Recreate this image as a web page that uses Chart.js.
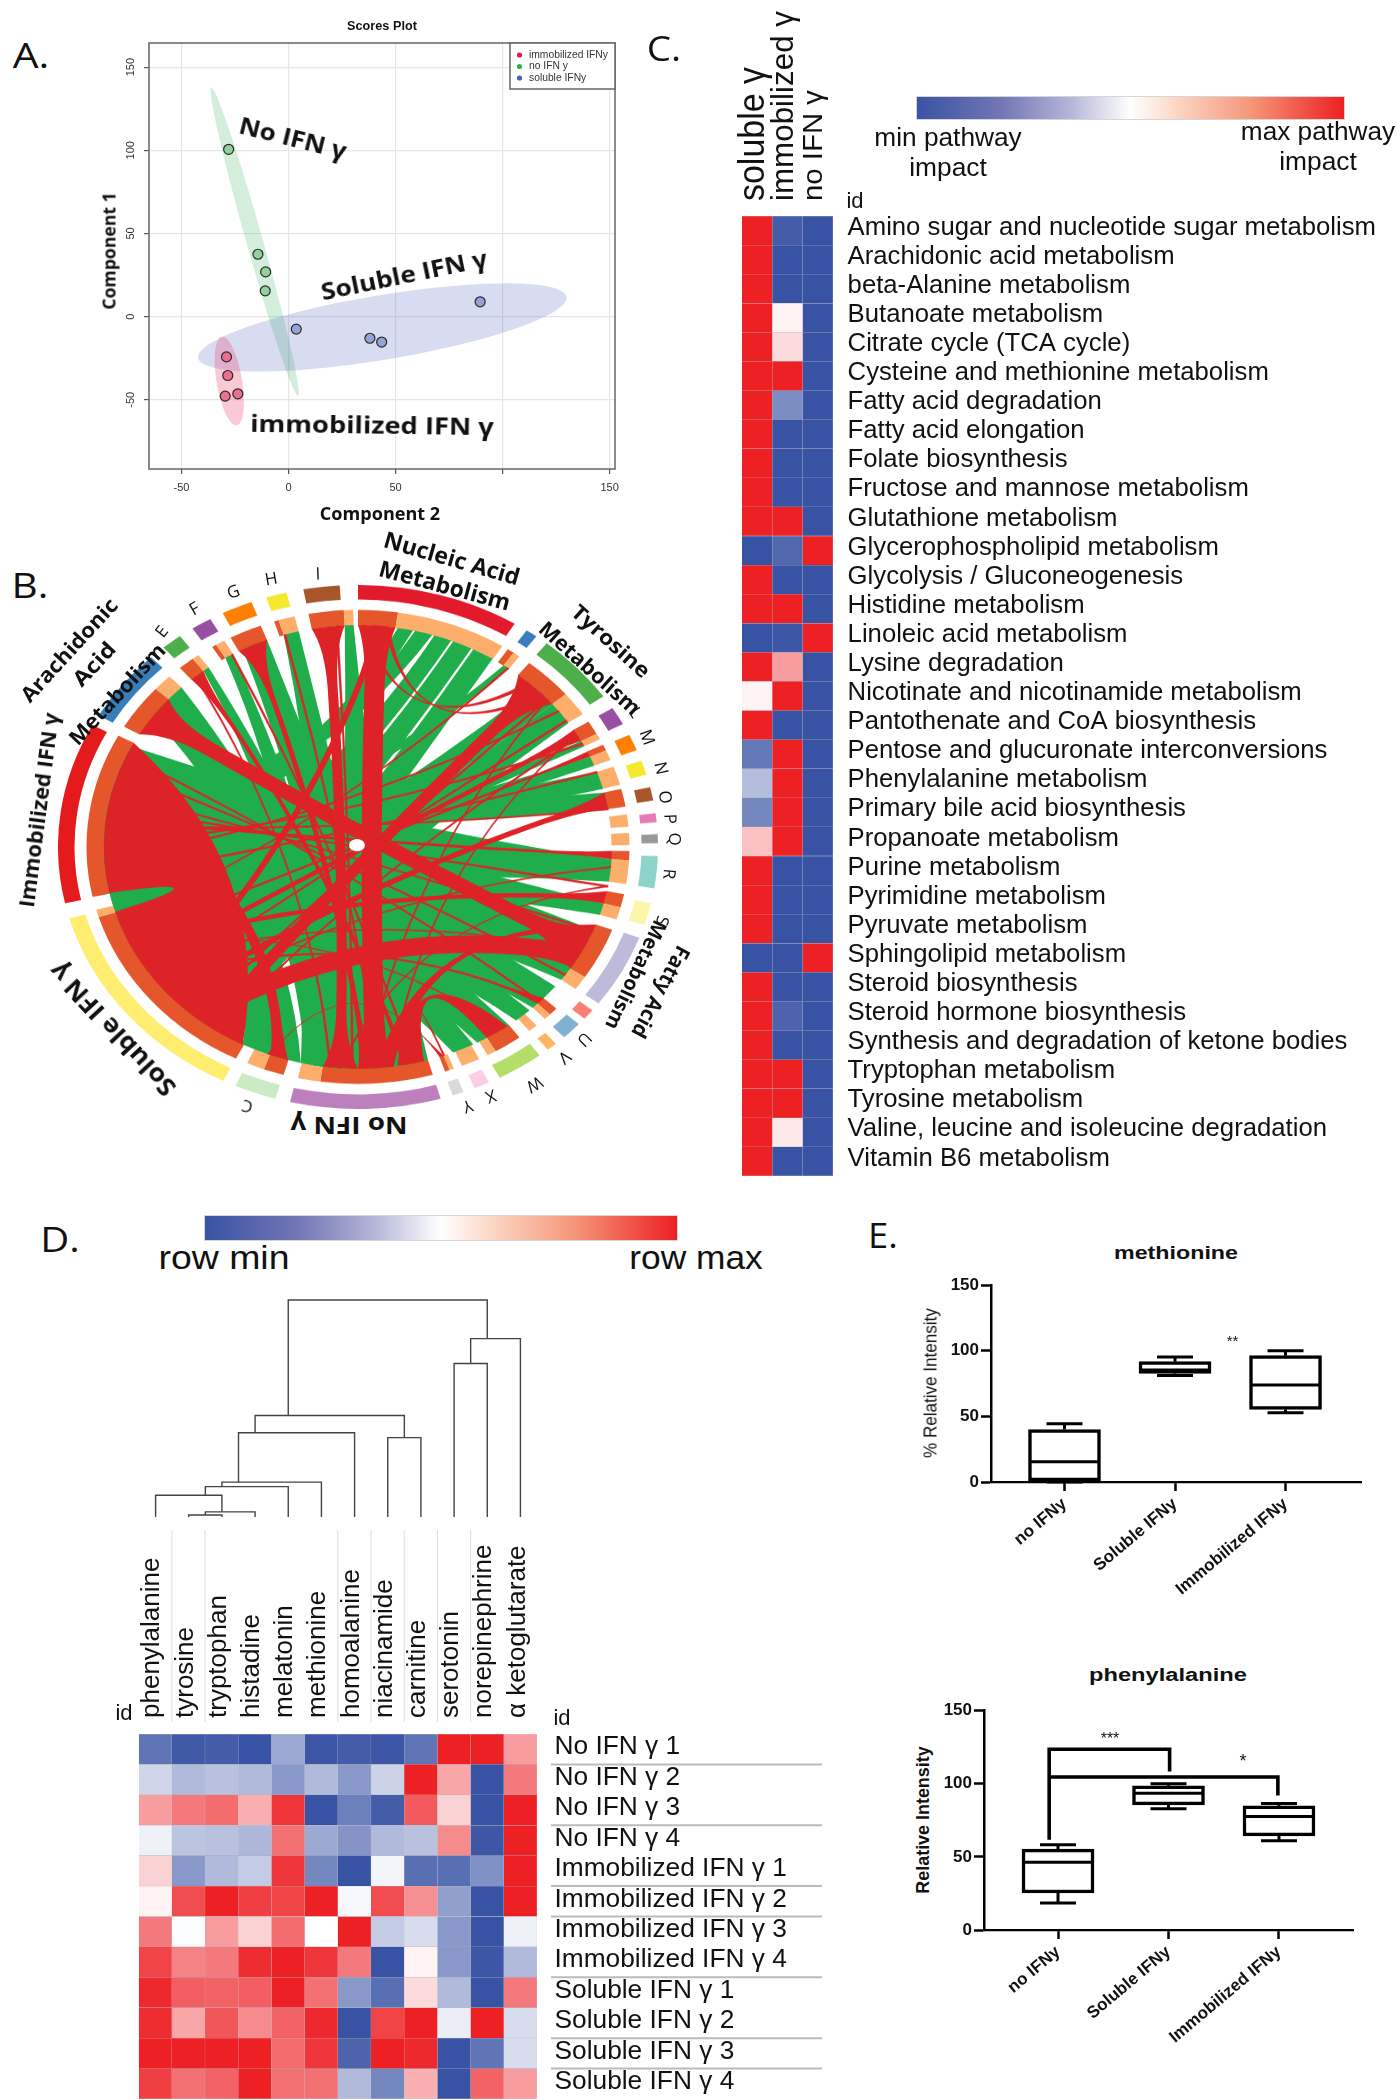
<!DOCTYPE html>
<html>
<head>
<meta charset="utf-8">
<title>IFN gamma metabolomics figure</title>
<script src="https://cdn.jsdelivr.net/npm/chart.js@4/dist/chart.umd.min.js"></script>
<style>
html, body { margin: 0; padding: 0; background: #fff; }
#page { position: relative; width: 1397px; height: 2100px; overflow: hidden; }
canvas { position: absolute; }
.txt { position: absolute; white-space: nowrap; line-height: 1; color: #111; font-family: "Liberation Sans", sans-serif; }
.bar { position: absolute; border: 1px solid #d5d5d5; box-sizing: border-box;
  background: linear-gradient(to right, #3953a4 0%, #7377b5 20%, #b5b6d8 36%, #ffffff 50%, #fcd9c8 60%, #f5977a 78%, #ed2024 100%); }
</style>
</head>
<body>
<div id="page"></div>
<script>
// panel A: scores plot
var groupNames = ["immobilized IFNy", "no IFN y", "soluble IFNy"];
var immobilizedScores = [[-29, -24.2], [-28.4, -35.4], [-23.7, -46.4], [-29.6, -47.8]];
var noIfnScores = [[-28, 100.6], [-14.3, 37.5], [-10.7, 26.9], [-10.9, 15.5]];
var solubleScores = [[3.6, -7.5], [38, -13], [43.5, -15.3], [89.5, 8.9]];
// centre, then two conjugate half axes, in score units
var immobilizedEllipse = [-27.7, -38.7, 3.2, -26.7, 6, 0];
var noIfnEllipse = [-15.8, 45, 20.2, -92.6, 4, 0];
var solubleEllipse = [43.8, -6.5, 86, 18.6, 3.5, -18.9];
var scoreTicksX = [-50, 0, 50, 100, 150];
var scoreTickLabelsX = ["-50", "0", "50", "", "150"];
var scoreTicksY = [-50, 0, 50, 100, 150];

// panel B: chord diagram, ring edges in degrees clockwise from the top
var outerEdges = [0, 31.5, 34.2, 36.5, 39, 54.9, 58, 62, 64.7, 68.3, 70.8, 74, 76.8, 79.8, 82.6, 84.6, 87.2, 89.2, 92, 99.1, 102.4, 107.3, 110.3, 126.7, 128.6, 131, 132.6, 136.6, 138.7, 140.7, 142.7, 151.8, 154.1, 157.1, 159.4, 161.6, 164, 193.1, 196, 204.1, 206.7, 254.2, 257.6, 297.7, 300.1, 316.4, 319.6, 323.6, 326.5, 330.5, 333.2, 339.2, 342.2, 346.2, 349.5, 356.5, 360];
var outerColors = ["#e31a2c", "", "#3a7ebf", "", "#4dae4a", "", "#984ea3", "", "#ff7f00", "", "#f5e92e", "", "#a65628", "", "#e879b8", "", "#999999", "", "#8dd3c7", "", "#fbf6a8", "", "#bebada", "", "#fb8072", "", "#80b1d3", "", "#fdb462", "", "#b3de69", "", "#fccde5", "", "#d9d9d9", "", "#bc80bd", "", "#ccebc5", "", "#ffed6f", "", "#e41a1c", "", "#377eb8", "", "#4daf4a", "", "#984ea3", "", "#ff7f00", "", "#f5e92e", "", "#a65628", ""];
var innerEdges = [0, 8.5, 32.1, 33.5, 35, 36.5, 39.1, 49.9, 55.9, 58.1, 61.5, 63, 64.5, 66, 68.5, 70.2, 74.8, 75.8, 80.2, 82.1, 85.1, 86.6, 89.6, 91, 93.2, 99, 101.5, 104.8, 107.8, 110.5, 123.3, 126.8, 133, 135, 136.5, 138.9, 140.9, 143.5, 149.5, 151.5, 153.5, 157.5, 159.3, 160.3, 161.3, 164, 188, 192.8, 195.9, 200.3, 204.1, 206.7, 252.8, 254.6, 257.8, 298, 300.5, 311.8, 316, 319, 322.5, 324, 327.5, 328.5, 330.5, 332, 339, 342, 343, 346.5, 349.5, 357, 359, 360];
var innerKinds = ("dlgdlgdlgdlgdlg" + "lg" + "dg" + "lg" + "lg" + "dlgdlgdlgdlg" + "lg" + "dlg" + "lg" + "ldg" + "dlgdlgdlg" + "dg" + "dlgdlgdlg" + "dg" + "dlgdlg").split("");
var greenLinks = [
  [9, 12.5, 262, 272], [13, 17, 272, 282], [17.5, 21.5, 240, 252], [22, 26.5, 226, 238], [27, 32, 212, 224],
  [44, 50, 232, 244], [50, 56, 214, 232], [35, 36.5, 258, 262], [61.5, 63, 244, 252], [66, 68.5, 252, 262],
  [70.2, 74.8, 262, 275], [75.8, 80.2, 275, 290], [93.2, 99, 258, 297], [104.8, 107.8, 258, 290], [112, 126.8, 262, 297],
  [129, 136.5, 262, 297], [137.5, 141.5, 262, 297], [143.5, 152, 262, 297], [153, 158, 255, 297],
  [193, 207, 262, 296], [176, 192, 306, 316], [172, 190, 322.5, 324], [180, 193, 328.5, 330.5],
  [165, 185, 333, 339], [170, 190, 343, 346.5], [164, 186, 357, 359]
];
// the two big groups share one solid mass
var redMass = [[207, 253, 258, 298]];
// bands fan out at the ring and keep a narrow waist, last number is the half width of the waist
var redBands = [
  [0, 8.5, 172, 180, 10], [349.5, 357, 180, 188, 5], [300.5, 311.8, 110.5, 123.3, 8], [39.1, 49.9, 207, 225, 6], [115, 123, 207, 232, 10],
  [3, 7, 225, 235, 3], [332, 339, 176, 180, 2.5], [319, 322.5, 168, 170, 2], [196, 200.3, 280, 286, 5], [101.5, 104.8, 240, 246, 2.5],
  [91, 93.2, 275, 279, 1.5], [75.8, 80.2, 225, 229, 3], [58.1, 61.5, 236, 240, 2.5], [64.5, 66, 245, 247, 1.2], [133, 135, 232, 234, 1.2],
  [160.3, 161.3, 200, 201, 0.4]
];
var redRibbons = [[144, 149.5, 165, 171], [110.5, 112.5, 172, 176]];
var thinRedLinks = [
  [70, 70.5, 262, 262.7], [52, 52.5, 266, 266.6], [62, 62.5, 270, 270.6], [80, 80.4, 275, 275.6], [100, 100.5, 280, 280.5],
  [112, 112.5, 284, 284.5], [125, 125.5, 290, 290.5], [134, 134.5, 294, 294.5], [60, 60.5, 214, 214.5], [48, 48.5, 220, 220.5],
  [95, 95.4, 226, 226.5], [55, 55.5, 232, 232.5], [118, 118.4, 238, 238.5], [145, 145.4, 244, 244.4], [36, 36.5, 250, 250.4],
  [48, 48.4, 178, 178.5], [59, 59.4, 172, 172.5], [100, 100.4, 184, 184.5], [167, 167.5, 330, 330.5], [175, 175.5, 343, 343.5],
  [181, 181.5, 355, 355.5], [186, 186.5, 320, 320.4], [160, 160.4, 165, 165.5], [1, 2, 42, 43], [6, 7, 46, 47]
];

// panel C: pathway impact, columns soluble, immobilized, no IFN
var pathwayColumns = ["soluble γ", "immobilized γ", "no IFN γ"];
var pathways = ["Amino sugar and nucleotide sugar metabolism", "Arachidonic acid metabolism", "beta-Alanine metabolism", "Butanoate metabolism", "Citrate cycle (TCA cycle)", "Cysteine and methionine metabolism", "Fatty acid degradation", "Fatty acid elongation", "Folate biosynthesis", "Fructose and mannose metabolism", "Glutathione metabolism", "Glycerophospholipid metabolism", "Glycolysis / Gluconeogenesis", "Histidine metabolism", "Linoleic acid metabolism", "Lysine degradation", "Nicotinate and nicotinamide metabolism", "Pantothenate and CoA biosynthesis", "Pentose and glucuronate interconversions", "Phenylalanine metabolism", "Primary bile acid biosynthesis", "Propanoate metabolism", "Purine metabolism", "Pyrimidine metabolism", "Pyruvate metabolism", "Sphingolipid metabolism", "Steroid biosynthesis", "Steroid hormone biosynthesis", "Synthesis and degradation of ketone bodies", "Tryptophan metabolism", "Tyrosine metabolism", "Valine, leucine and isoleucine degradation", "Vitamin B6 metabolism"];
var solubleImpact = [1, 1, 1, 1, 1, 1, 1, 1, 1, 1, 1, 0, 1, 1, 0, 1, 0.53, 1, 0.11, 0.31, 0.15, 0.64, 1, 1, 1, 0, 1, 1, 1, 1, 1, 1, 1];
var immobilizedImpact = [0.03, 0, 0, 0.53, 0.58, 1, 0.17, 0, 0, 0, 1, 0.06, 0, 1, 0.01, 0.72, 1, 0, 1, 1, 1, 1, 0, 0, 0, 0, 0, 0.05, 0, 1, 1, 0.55, 0];
var noIfnImpact = [0, 0, 0, 0, 0, 0, 0, 0, 0, 0, 0, 1, 0, 0, 1, 0, 0, 0, 0, 0, 0, 0, 0, 0, 0, 1, 0, 0, 0, 0, 0, 0, 0];

// panel D: metabolite heat map and dendrogram
var metabolites = ["phenylalanine", "tyrosine", "tryptophan", "histadine", "melatonin", "methionine", "homoalanine", "niacinamide", "carnitine", "serotonin", "norepinephrine", "α ketoglutarate"];
var samples = ["No IFN γ 1", "No IFN γ 2", "No IFN γ 3", "No IFN γ 4", "Immobilized IFN γ 1", "Immobilized IFN γ 2", "Immobilized IFN γ 3", "Immobilized IFN γ 4", "Soluble IFN γ 1", "Soluble IFN γ 2", "Soluble IFN γ 3", "Soluble IFN γ 4"];
var metaboliteValues = [
  [0.1, 0.02, 0.03, 0, 0.25, 0.01, 0.03, 0.01, 0.1, 1, 1, 0.72],
  [0.38, 0.3, 0.32, 0.3, 0.2, 0.3, 0.2, 0.37, 1, 0.7, 0, 0.8],
  [0.72, 0.8, 0.83, 0.68, 0.95, 0, 0.13, 0.03, 0.87, 0.6, 0, 1],
  [0.46, 0.33, 0.32, 0.29, 0.82, 0.25, 0.19, 0.3, 0.32, 0.76, 0.01, 1],
  [0.6, 0.2, 0.3, 0.35, 0.95, 0.15, 0, 0.47, 0.08, 0.08, 0.18, 1],
  [0.53, 0.9, 1, 0.93, 0.92, 1, 0.48, 0.9, 0.75, 0.22, 0, 1],
  [0.8, 0.49, 0.72, 0.6, 0.83, 0.5, 1, 0.35, 0.4, 0.2, 0, 0.46],
  [0.92, 0.78, 0.8, 0.97, 1, 0.95, 0.8, 0, 0.53, 0.2, 0.01, 0.3],
  [0.98, 0.86, 0.85, 0.86, 1, 0.82, 0.2, 0.08, 0.58, 0.3, 0, 0.8],
  [0.97, 0.7, 0.88, 0.76, 0.85, 0.98, 0, 0.92, 1, 0.45, 1, 0.4],
  [1, 1, 1, 1, 0.83, 0.95, 0.05, 1, 0.98, 0, 0.1, 0.4],
  [0.93, 0.82, 0.85, 1, 0.82, 0.82, 0.3, 0.15, 0.68, 0, 0.85, 0.72]
];
var sampleRules = [1, 3, 5, 6, 8, 10, 11];
var metaboliteRules = [1, 2, 6, 7, 8, 9, 10];
var dendroLeft = [1, 1.5, 0, 1.5, 2, 2.5, 7, 3, 9, 9.5, 4];
var dendroRight = [2, 3, 2, 4, 5, 6, 8, 7.5, 10, 11, 10];
var dendroLeftBase = [0, 6, 0, 63, 88, 101, 0, 244, 0, 445, 294];
var dendroRightBase = [0, 0, 15, 0, 0, 0, 0, 230, 0, 0, 517];
var dendroTop = [6, 15, 63, 88, 101, 244, 230, 294, 445, 517, 629];

// panel E: box plots
var boxGroups = ["no IFNy", "Soluble IFNy", "Immobilized IFNy"];
var methionineQ1 = [0.8, 82.7, 55.3];
var methionineQ3 = [40, 91.6, 96.2];
var methionineMedian = [15.5, 85.3, 73.9];
var methionineLow = [0, 81, 52.8];
var methionineHigh = [44.4, 95.2, 100];
var phenylalanineQ1 = [25.3, 85.6, 64.4];
var phenylalanineQ3 = [55.3, 98.6, 84.9];
var phenylalanineMedian = [46.4, 93.6, 77.6];
var phenylalanineLow = [18.4, 82.9, 61];
var phenylalanineHigh = [58.3, 100, 86.5];
var bracketOne = [[-0.08, 61.7], [-0.08, 123.6], [1.01, 123.6], [1.01, 108.4]];
var bracketTwo = [[-0.08, 104.7], [1.99, 104.7], [1.99, 92]];
var boxTicks = [0, 50, 100, 150];

Chart.defaults.font.family = '"Liberation Sans", sans-serif';
Chart.defaults.color = "#111";
Chart.defaults.animation = false;
Chart.defaults.responsive = false;
Chart.defaults.devicePixelRatio = 1;
Chart.defaults.plugins.legend.display = false;
Chart.defaults.plugins.tooltip.enabled = false;

var page = document.getElementById("page");

function addCanvas(left, top, width, height) {
  var c = document.createElement("canvas");
  c.width = width;
  c.height = height;
  c.style.left = left + "px";
  c.style.top = top + "px";
  page.appendChild(c);
  return c;
}

// text centred on cx,cy; o.width stretches it to the width seen in the figure
function label(text, cx, cy, size, o) {
  o = o || {};
  var d = document.createElement("div");
  d.className = "txt";
  d.textContent = text;
  d.style.left = cx + "px";
  d.style.top = cy + "px";
  d.style.fontSize = size + "px";
  if (o.font) d.style.fontFamily = o.font;
  if (o.bold) d.style.fontWeight = "bold";
  page.appendChild(d);
  var sx = o.width ? o.width / d.offsetWidth : 1;
  d.style.transform = "translate(-50%,-50%) rotate(" + (o.rot || 0) + "deg) scaleX(" + sx + ")";
}

function colorBar(left, top, width, height) {
  var b = document.createElement("div");
  b.className = "bar";
  b.style.left = left + "px";
  b.style.top = top + "px";
  b.style.width = width + "px";
  b.style.height = height + "px";
  page.appendChild(b);
}

function heatColor(v) {
  var lo = [57, 83, 164], hi = [237, 32, 36], end = v < 0.5 ? lo : hi, t = Math.abs(v - 0.5) * 2;
  return "rgb(" + end.map(function (c) { return Math.round(255 + (c - 255) * t); }).join(",") + ")";
}

function toPoints(list) {
  return list.map(function (p) { return { x: p[0], y: p[1] }; });
}

var OPEN = '"Open Sans", sans-serif';

/* ---------- A ---------- */
var scoresPlugin = {
  id: "scores",
  beforeDatasetsDraw: function (chart) {
    var c = chart.ctx, xs = chart.scales.x, ys = chart.scales.y;
    [[noIfnEllipse, "rgba(40,170,80,0.2)"], [solubleEllipse, "rgba(70,90,190,0.21)"], [immobilizedEllipse, "rgba(235,40,90,0.25)"]].forEach(function (e) {
      var p = e[0];
      c.beginPath();
      for (var i = 0; i <= 120; i++) {
        var t = i / 120 * Math.PI * 2;
        var px = xs.getPixelForValue(p[0] + p[2] * Math.cos(t) + p[4] * Math.sin(t));
        var py = ys.getPixelForValue(p[1] + p[3] * Math.cos(t) + p[5] * Math.sin(t));
        if (i) c.lineTo(px, py); else c.moveTo(px, py);
      }
      c.fillStyle = e[1];
      c.fill();
    });
  },
  afterDraw: function (chart) {
    var c = chart.ctx, a = chart.chartArea, ys = chart.scales.y;
    c.save();
    c.strokeStyle = "#666";
    c.lineWidth = 1.5;
    c.strokeRect(a.left, a.top, a.right - a.left, a.bottom - a.top);
    c.font = '11px "Liberation Sans"';
    c.fillStyle = "#333";
    c.textAlign = "center";
    c.textBaseline = "middle";
    scoreTicksY.forEach(function (v) {
      c.save();
      c.translate(a.left - 18, ys.getPixelForValue(v));
      c.rotate(-Math.PI / 2);
      c.fillText(String(v), 0, 0);
      c.restore();
    });
    var bx = a.right - 105;
    c.fillStyle = "#fff";
    c.fillRect(bx, a.top, 105, 46);
    c.strokeRect(bx, a.top, 105, 46);
    c.textAlign = "left";
    c.font = '10.3px "Liberation Sans"';
    ["#e8174a", "#2db24f", "#4560b8"].forEach(function (col, i) {
      var y = a.top + 12 + i * 11.5;
      c.fillStyle = col;
      c.beginPath();
      c.arc(bx + 9.5, y, 2.6, 0, Math.PI * 2);
      c.fill();
      c.fillStyle = "#333";
      c.fillText(groupNames[i], bx + 19, y);
    });
    c.restore();
  }
};

function scoreDataset(points, fill) {
  return { data: toPoints(points), backgroundColor: fill, borderColor: "#2a2a2a", borderWidth: 1.2, pointRadius: 5 };
}

new Chart(addCanvas(60, 0, 570, 530), {
  type: "scatter",
  data: { datasets: [scoreDataset(immobilizedScores, "#ec6f8f"), scoreDataset(noIfnScores, "#93d09b"), scoreDataset(solubleScores, "#93a3d8")] },
  options: {
    layout: { padding: { top: 43, right: 15 } },
    scales: {
      x: {
        min: -65.2, max: 152.5,
        afterBuildTicks: function (s) { s.ticks = scoreTicksX.map(function (v) { return { value: v }; }); },
        afterFit: function (s) { s.height = 61; },
        grid: { color: "#e6e6e6", lineWidth: 1.2, tickColor: "#555", tickLength: 5 },
        border: { display: false },
        ticks: { autoSkip: false, maxRotation: 0, padding: 7, color: "#333", font: { size: 11 }, callback: function (v) { return scoreTickLabelsX[scoreTicksX.indexOf(v)]; } }
      },
      y: {
        min: -91.6, max: 164.5,
        afterBuildTicks: function (s) { s.ticks = scoreTicksY.map(function (v) { return { value: v }; }); },
        afterFit: function (s) { s.width = 89; },
        grid: { color: "#e6e6e6", lineWidth: 1.2, tickColor: "#555", tickLength: 5 },
        border: { display: false },
        ticks: { display: false }
      }
    }
  },
  plugins: [scoresPlugin]
});

label("Scores Plot", 382, 26, 12.5, { bold: true, width: 70 });
label("No IFN γ", 293, 138, 23, { font: OPEN, bold: true, rot: 14, width: 110 });
label("Soluble IFN γ", 404, 275, 23, { font: OPEN, bold: true, rot: -11.7, width: 169 });
label("immobilized IFN γ", 372, 425, 23, { font: OPEN, bold: true, rot: 0.8, width: 243 });
label("Component 2", 380, 513, 17, { font: OPEN, bold: true, width: 120 });
label("Component 1", 109, 251, 17, { font: OPEN, bold: true, rot: -90, width: 117 });
label("A.", 31, 55, 34, { font: OPEN, width: 36 });

/* ---------- B ---------- */
function spans(edges) {
  var out = [];
  for (var i = 1; i < edges.length; i++) out.push(edges[i] - edges[i - 1]);
  return out;
}

var chordPlugin = {
  id: "chord",
  afterDatasetsDraw: function (chart) {
    var c = chart.ctx, arc = chart.getDatasetMeta(2).data[0];
    var cx = arc.x, cy = arc.y, r = arc.innerRadius + 0.5;
    var rad = Math.PI / 180, top = Math.PI / 2, K = 0.5;
    function pt(a) {
      return [cx + r * Math.sin(a * rad), cy - r * Math.cos(a * rad)];
    }
    function control(p, q) {
      return [cx + ((p[0] + q[0]) / 2 - cx) * K, cy + ((p[1] + q[1]) / 2 - cy) * K];
    }
    function curve(p, q) {
      var m = control(p, q);
      c.quadraticCurveTo(m[0], m[1], q[0], q[1]);
    }
    function arcTo(a0, a1) {
      c.arc(cx, cy, r, a0 * rad - top, a1 * rad - top);
    }
    function ribbon(l) {
      c.beginPath();
      c.moveTo.apply(c, pt(l[0]));
      arcTo(l[0], l[1]);
      curve(pt(l[1]), pt(l[2]));
      arcTo(l[2], l[3]);
      curve(pt(l[3]), pt(l[0]));
      c.closePath();
      c.fill();
    }
    // spine between the two sector middles, pushed sideways by w
    function band(l) {
      var A = pt((l[0] + l[1]) / 2), B = pt((l[2] + l[3]) / 2), m = control(A, B), w = l[4];
      function spine(t, side) {
        var u = 1 - t, x = u * u * A[0] + 2 * u * t * m[0] + t * t * B[0], y = u * u * A[1] + 2 * u * t * m[1] + t * t * B[1];
        var dx = 2 * u * (m[0] - A[0]) + 2 * t * (B[0] - m[0]), dy = 2 * u * (m[1] - A[1]) + 2 * t * (B[1] - m[1]);
        var len = Math.sqrt(dx * dx + dy * dy) || 1;
        return [x + side * w * dy / len, y - side * w * dx / len];
      }
      var t0 = 0.14, t1 = 0.86, t, q;
      c.beginPath();
      c.moveTo.apply(c, pt(l[0]));
      arcTo(l[0], l[1]);
      q = spine(0.05, 1);
      c.quadraticCurveTo(q[0], q[1], spine(t0, 1)[0], spine(t0, 1)[1]);
      for (t = t0; t < t1; t += 0.06) c.lineTo.apply(c, spine(t, 1));
      c.lineTo.apply(c, spine(t1, 1));
      q = spine(0.95, 1);
      c.quadraticCurveTo(q[0], q[1], pt(l[2])[0], pt(l[2])[1]);
      arcTo(l[2], l[3]);
      q = spine(0.95, -1);
      c.quadraticCurveTo(q[0], q[1], spine(t1, -1)[0], spine(t1, -1)[1]);
      for (t = t1; t > t0; t -= 0.06) c.lineTo.apply(c, spine(t, -1));
      c.lineTo.apply(c, spine(t0, -1));
      q = spine(0.05, -1);
      c.quadraticCurveTo(q[0], q[1], pt(l[0])[0], pt(l[0])[1]);
      c.closePath();
      c.fill();
    }
    c.save();
    c.fillStyle = "#1fae4b";
    greenLinks.forEach(ribbon);
    c.fillStyle = "#dd2327";
    redMass.forEach(ribbon);
    redRibbons.forEach(ribbon);
    redBands.forEach(band);
    c.strokeStyle = "#dd2327";
    c.lineWidth = 0.4;
    thinRedLinks.forEach(function (l) { ribbon(l); c.stroke(); });
    c.fillStyle = "#fff";
    c.beginPath();
    c.ellipse(cx - 1, cy - 2, 8, 7, 0, 0, Math.PI * 2);
    c.fill();
    c.restore();
  }
};

var chordCanvas = addCanvas(58, 585, 600, 600);
// the published wheel is squashed vertically
chordCanvas.style.transformOrigin = "0 0";
chordCanvas.style.transform = "scaleY(0.873)";
new Chart(chordCanvas, {
  type: "doughnut",
  data: {
    datasets: [
      { data: spans(outerEdges), backgroundColor: outerColors.map(function (x) { return x || "rgba(0,0,0,0)"; }), borderWidth: 0, weight: 5.5 },
      { data: [360], backgroundColor: ["rgba(0,0,0,0)"], borderWidth: 0, weight: 4 },
      { data: spans(innerEdges), backgroundColor: innerKinds.map(function (k) { return k === "d" ? "#e5562a" : k === "l" ? "#fdae6b" : "rgba(0,0,0,0)"; }), borderWidth: 0, weight: 6 }
    ]
  },
  options: { cutout: "84.5%", layout: { padding: 0 } },
  plugins: [chordPlugin]
});

label("B.", 30, 585, 34, { font: OPEN, width: 37 });
label("Nucleic Acid", 452, 558, 23, { font: OPEN, bold: true, rot: 16, width: 140 });
label("Metabolism", 445, 585, 23, { font: OPEN, bold: true, rot: 15, width: 135 });
label("Tyrosine", 611, 641, 21, { font: OPEN, bold: true, rot: 42, width: 98 });
label("Metabolism", 590, 668, 21, { font: OPEN, bold: true, rot: 42, width: 128 });
label("Arachidonic", 69, 650, 21, { font: OPEN, bold: true, rot: -47.5, width: 132 });
label("Acid", 94, 664, 21, { font: OPEN, bold: true, rot: -47, width: 52 });
label("Metabolism", 117, 694, 21, { font: OPEN, bold: true, rot: -47, width: 130 });
label("Immobilized IFN γ", 39, 810, 21, { font: OPEN, bold: true, rot: -82.6, width: 196 });
label("Soluble IFN γ", 112, 1030, 25, { font: OPEN, bold: true, rot: 227, width: 172 });
label("No IFN γ", 349, 1125, 23, { font: OPEN, bold: true, rot: 180, width: 117 });
label("Fatty Acid", 661, 992, 21, { font: OPEN, bold: true, rot: 118, width: 101 });
label("Metabolism", 636, 975, 20, { font: OPEN, bold: true, rot: 115, width: 118 });
[["E", 161, 631, -52], ["F", 194, 608, -30], ["G", 233, 591, -20], ["H", 271, 578, -10], ["I", 318, 573, -2],
 ["L", 636, 712, 60], ["M", 648, 737, 70], ["N", 662, 768, 77], ["O", 666, 797, 85], ["P", 671, 819, 88], ["Q", 675, 839, 90],
 ["R", 670, 874, 95], ["S", 663, 921, 105], ["U", 585, 1040, 135], ["V", 565, 1058, 140], ["W", 535, 1085, 150],
 ["X", 491, 1097, 160], ["Y", 468, 1107, 160], ["C", 247, 1107, 195]].forEach(function (s) {
  label(s[0], s[1], s[2], 17, { font: OPEN, rot: s[3] });
});

/* ---------- C and D heat maps: stacked bars, one dataset per column ---------- */
function columnValues(matrix, col) {
  return matrix.map(function (row) { return row[col]; });
}

function noPadding(s) {
  s.paddingLeft = s.paddingRight = s.paddingTop = s.paddingBottom = 0;
}

function heatMap(canvas, rows, columns, columnData, o) {
  // column headers read upward, starting just above the cells
  var headerPlugin = {
    id: "headers",
    afterDraw: function (chart) {
      var c = chart.ctx, xs = chart.scales.x, a = chart.chartArea;
      c.save();
      c.fillStyle = "#111";
      c.textAlign = "left";
      c.textBaseline = "middle";
      columns.forEach(function (name, i) {
        c.font = o.headSizes[i] + 'px "Liberation Sans"';
        var sx = o.headLengths ? o.headLengths[i] / c.measureText(name).width : 1;
        c.save();
        c.translate(xs.getPixelForValue(i + 0.5) - 3, a.top - o.headPad);
        c.rotate(-Math.PI / 2);
        c.scale(sx, 1);
        c.fillText(name, 0, 0);
        c.restore();
      });
      c.restore();
    }
  };
  return new Chart(canvas, {
    type: "bar",
    data: {
      labels: rows,
      datasets: columns.map(function (name, i) {
        return {
          label: name,
          data: rows.map(function () { return 1; }),
          backgroundColor: columnData[i].map(heatColor),
          borderColor: "rgba(40,30,60,0.22)",
          borderWidth: 0.5,
          barPercentage: 1,
          categoryPercentage: 1
        };
      })
    },
    options: {
      indexAxis: "y",
      layout: { padding: o.padding },
      scales: {
        x: {
          position: "top", stacked: true, min: 0, max: columns.length,
          afterFit: function (s) { s.height = o.headHeight; noPadding(s); },
          grid: { display: false, drawTicks: false }, border: { display: false },
          ticks: { display: false }
        },
        y: {
          position: "right", stacked: true,
          afterFit: function (s) { s.width = o.sideWidth; noPadding(s); },
          grid: { display: false, drawTicks: false }, border: { display: false },
          ticks: { autoSkip: false, padding: o.sidePad, labelOffset: o.sideShift, font: { size: o.sideSize } }
        }
      }
    },
    plugins: [headerPlugin].concat(o.plugins || [])
  });
}

heatMap(addCanvas(640, 0, 757, 1190), pathways, pathwayColumns, [solubleImpact, immobilizedImpact, noIfnImpact], {
  padding: { left: 102, bottom: 14 }, headHeight: 216, headPad: 15, headSizes: [36, 31, 27], headLengths: [134, 190, 111],
  sideWidth: 564, sidePad: 14.6, sideSize: 25.7, sideShift: -3
});
label("C.", 664, 48, 34, { font: OPEN, width: 34 });
colorBar(916, 96, 429, 24);
label("min pathway", 948, 137, 25, { width: 147 });
label("impact", 948, 167, 25, { width: 78 });
label("max pathway", 1318, 131, 25, { width: 154 });
label("impact", 1318, 161, 25, { width: 78 });
label("id", 855, 201, 22);

var rulesPlugin = {
  id: "rules",
  afterDraw: function (chart) {
    var c = chart.ctx, a = chart.chartArea, xs = chart.scales.x, step = (a.bottom - a.top) / samples.length;
    c.save();
    c.strokeStyle = "#bbb";
    c.lineWidth = 2;
    sampleRules.forEach(function (i) {
      c.beginPath();
      c.moveTo(a.right + 14, a.top + step * i);
      c.lineTo(a.right + 285, a.top + step * i);
      c.stroke();
    });
    c.strokeStyle = "#ddd";
    c.lineWidth = 1;
    metaboliteRules.forEach(function (i) {
      var x = xs.getPixelForValue(i);
      c.beginPath();
      c.moveTo(x, 10);
      c.lineTo(x, a.top - 12);
      c.stroke();
    });
    c.restore();
  }
};

heatMap(addCanvas(100, 1520, 730, 580), samples, metabolites, metabolites.map(function (m, i) { return columnValues(metaboliteValues, i); }), {
  padding: { left: 38.7, bottom: 1 }, headHeight: 214, headPad: 16,
  headSizes: metabolites.map(function () { return 26; }),
  sideWidth: 293, sidePad: 17.5, sideSize: 26.3, sideShift: -2, plugins: [rulesPlugin]
});

new Chart(addCanvas(139, 1298, 398, 219), {
  type: "scatter",
  data: {
    datasets: dendroTop.map(function (h, i) {
      return {
        data: [
          { x: dendroLeft[i], y: dendroLeftBase[i] }, { x: dendroLeft[i], y: h },
          { x: dendroRight[i], y: h }, { x: dendroRight[i], y: dendroRightBase[i] }
        ],
        showLine: true, pointRadius: 0, borderColor: "#444", borderWidth: 1.4, clip: false
      };
    })
  },
  options: {
    layout: { padding: { top: 2 } },
    scales: {
      x: { display: false, min: -0.5, max: 11.5 },
      y: { display: false, min: 0, max: 629 }
    }
  }
});

colorBar(204, 1215, 474, 26);
label("row min", 224, 1257, 34, { width: 131 });
label("row max", 696, 1257, 34, { width: 133 });
label("D.", 60, 1239, 34, { font: OPEN, width: 40 });
label("id", 124, 1713, 22);
label("id", 562, 1718, 22);

/* ---------- E ---------- */
var boxPlugin = {
  id: "box",
  afterDatasetsDraw: function (chart, args, opts) {
    var c = chart.ctx, xs = chart.scales.x, ys = chart.scales.y;
    c.save();
    c.strokeStyle = "#000";
    c.lineWidth = 3;
    function line(x0, y0, x1, y1) {
      c.beginPath();
      c.moveTo(x0, y0);
      c.lineTo(x1, y1);
      c.stroke();
    }
    boxGroups.forEach(function (g, i) {
      var x = xs.getPixelForValue(i), half = 34, cap = 18;
      line(x - half, ys.getPixelForValue(opts.median[i]), x + half, ys.getPixelForValue(opts.median[i]));
      line(x, ys.getPixelForValue(opts.q3[i]), x, ys.getPixelForValue(opts.high[i]));
      line(x, ys.getPixelForValue(opts.q1[i]), x, ys.getPixelForValue(opts.low[i]));
      line(x - cap, ys.getPixelForValue(opts.high[i]), x + cap, ys.getPixelForValue(opts.high[i]));
      line(x - cap, ys.getPixelForValue(opts.low[i]), x + cap, ys.getPixelForValue(opts.low[i]));
    });
    c.lineWidth = 3.6;
    (opts.brackets || []).forEach(function (b) {
      c.beginPath();
      b.forEach(function (p, j) {
        var px = xs.getPixelForValue(p[0]), py = ys.getPixelForValue(p[1]);
        if (j) c.lineTo(px, py); else c.moveTo(px, py);
      });
      c.stroke();
    });
    c.restore();
  }
};

function boxChart(canvas, o) {
  return new Chart(canvas, {
    type: "bar",
    data: {
      datasets: [{
        data: o.q1.map(function (v, i) { return { x: i, y: [v, o.q3[i]] }; }),
        backgroundColor: "#fff", borderColor: "#000", borderWidth: 3.5, borderSkipped: false, barThickness: 72
      }]
    },
    options: {
      layout: { padding: { top: o.padTop, right: o.padRight } },
      plugins: { box: { q1: o.q1, q3: o.q3, median: o.median, low: o.low, high: o.high, brackets: o.brackets } },
      scales: {
        x: {
          type: "linear", offset: false, min: o.xMin, max: o.xMax,
          afterBuildTicks: function (s) { s.ticks = boxGroups.map(function (g, i) { return { value: i }; }); },
          afterFit: function (s) { s.height = o.bottom; },
          grid: { offset: false, drawOnChartArea: false, tickColor: "#000", tickWidth: 2.5, tickLength: 9 },
          border: { color: "#000", width: 2.2 },
          ticks: { autoSkip: false, minRotation: 40, maxRotation: 40, padding: 3, font: { size: 17, weight: "bold" }, callback: function (v) { return boxGroups[v]; } }
        },
        y: {
          min: 0, max: 150,
          afterBuildTicks: function (s) { s.ticks = boxTicks.map(function (v) { return { value: v }; }); },
          afterFit: function (s) { s.width = o.left; },
          grid: { drawOnChartArea: false, tickColor: "#000", tickWidth: 2.5, tickLength: 10 },
          border: { color: "#000", width: 2.5 },
          ticks: { padding: 2, font: { size: 17, weight: "bold" } }
        }
      }
    },
    plugins: [boxPlugin]
  });
}

boxChart(addCanvas(940, 1270, 435, 330), {
  q1: methionineQ1, q3: methionineQ3, median: methionineMedian, low: methionineLow, high: methionineHigh,
  padTop: 15, padRight: 14, bottom: 118, left: 51, xMin: -0.665, xMax: 2.683
});
boxChart(addCanvas(935, 1695, 435, 365), {
  q1: phenylalanineQ1, q3: phenylalanineQ3, median: phenylalanineMedian, low: phenylalanineLow, high: phenylalanineHigh,
  brackets: [bracketOne, bracketTwo],
  padTop: 15.7, padRight: 17, bottom: 130, left: 49, xMin: -0.67, xMax: 2.67
});

label("E.", 883, 1235, 34, { font: OPEN, width: 30 });
label("methionine", 1176, 1253, 18, { bold: true, width: 124 });
label("% Relative Intensity", 929.5, 1383, 19, { rot: -90, width: 150 });
label("**", 1232.6, 1340, 15);
label("phenylalanine", 1168, 1675, 18, { bold: true, width: 158 });
label("Relative Intensity", 921.5, 1820, 19, { bold: true, rot: -90, width: 147 });
label("***", 1110, 1739, 16);
label("*", 1243, 1761, 18);
</script>
</body>
</html>
